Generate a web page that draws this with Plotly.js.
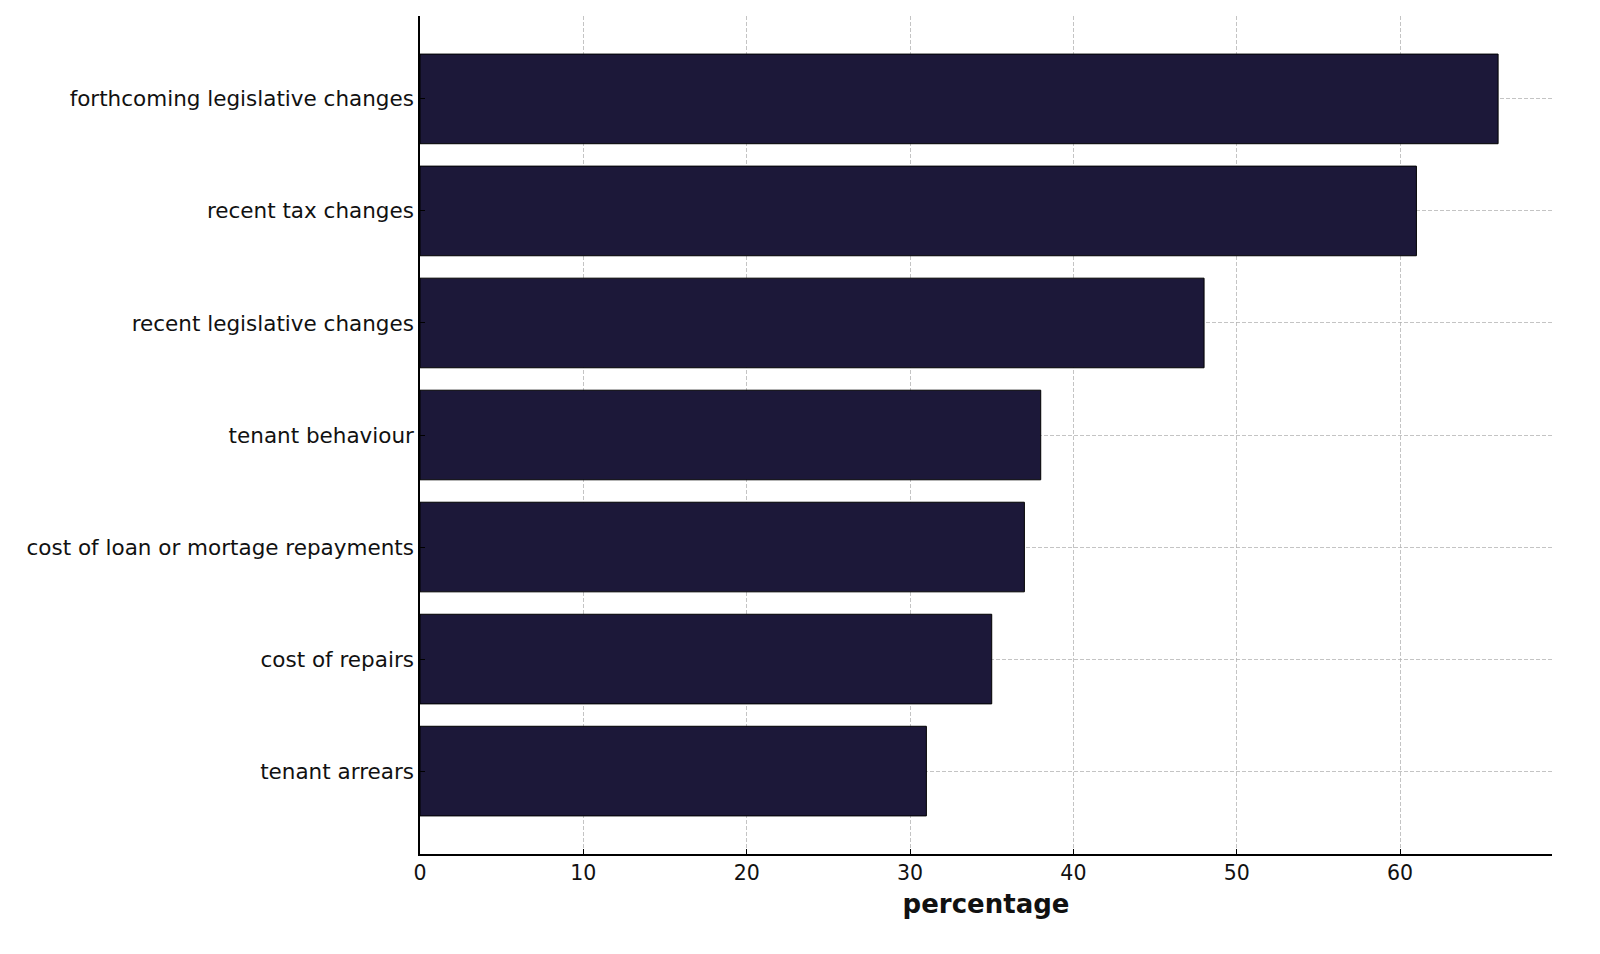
<!DOCTYPE html>
<html>
<head>
<meta charset="utf-8">
<script src="https://cdn.plot.ly/plotly-3.0.1.min.js"></script>
<style>
  html, body { margin: 0; padding: 0; background: #fff; }
  #chart { width: 1600px; height: 954px; }
</style>
</head>
<body>
<div id="chart"></div>
<script>
// reasons, bottom to top
const reasons = [
    "tenant arrears",
    "cost of repairs",
    "cost of loan or mortage repayments",
    "tenant behaviour",
    "recent legislative changes",
    "recent tax changes",
    "forthcoming legislative changes"
];
const percentages = [31, 35, 37, 38, 48, 61, 66];
const xTicks = [0, 10, 20, 30, 40, 50, 60];

const gridStyle = {
    showgrid: true,
    gridcolor: "rgba(176,176,176,0.75)",
    gridwidth: 1,
    griddash: "4px,2px",
    layer: "above traces"
};

const trace = {
    type: "bar",
    orientation: "h",
    y: reasons,
    x: percentages,
    width: 0.8,
    marker: { color: "#1c1839", line: { color: "#000000", width: 1 } },
    hoverinfo: "x+y"
};

const layout = {
    width: 1600,
    height: 954,
    margin: { l: 420, r: 48, t: 16, b: 100 },
    paper_bgcolor: "#ffffff",
    plot_bgcolor: "#ffffff",
    font: { family: "DejaVu Sans, sans-serif", size: 21, color: "#111111" },
    showlegend: false,
    bargap: 0.2,
    xaxis: Object.assign({
        range: [0, 69.3],
        tickvals: xTicks,
        ticks: "inside",
        ticklen: 5,
        tickcolor: "#000",
        showline: true,
        linecolor: "#000",
        linewidth: 1.5,
        zeroline: false,
        tickfont: { size: 20.5 },
        title: { text: "<b>percentage</b>", font: { size: 26 }, standoff: 10 }
    }, gridStyle),
    yaxis: Object.assign({
        range: [-0.74, 6.74],
        ticks: "inside",
        ticklen: 5,
        tickcolor: "#000",
        showline: true,
        linecolor: "#000",
        linewidth: 1.5,
        zeroline: false,
        tickfont: { size: 21.5 },
        automargin: false
    }, gridStyle)
};

Plotly.newPlot("chart", [trace], layout, { displayModeBar: false, responsive: false });
</script>
</body>
</html>
